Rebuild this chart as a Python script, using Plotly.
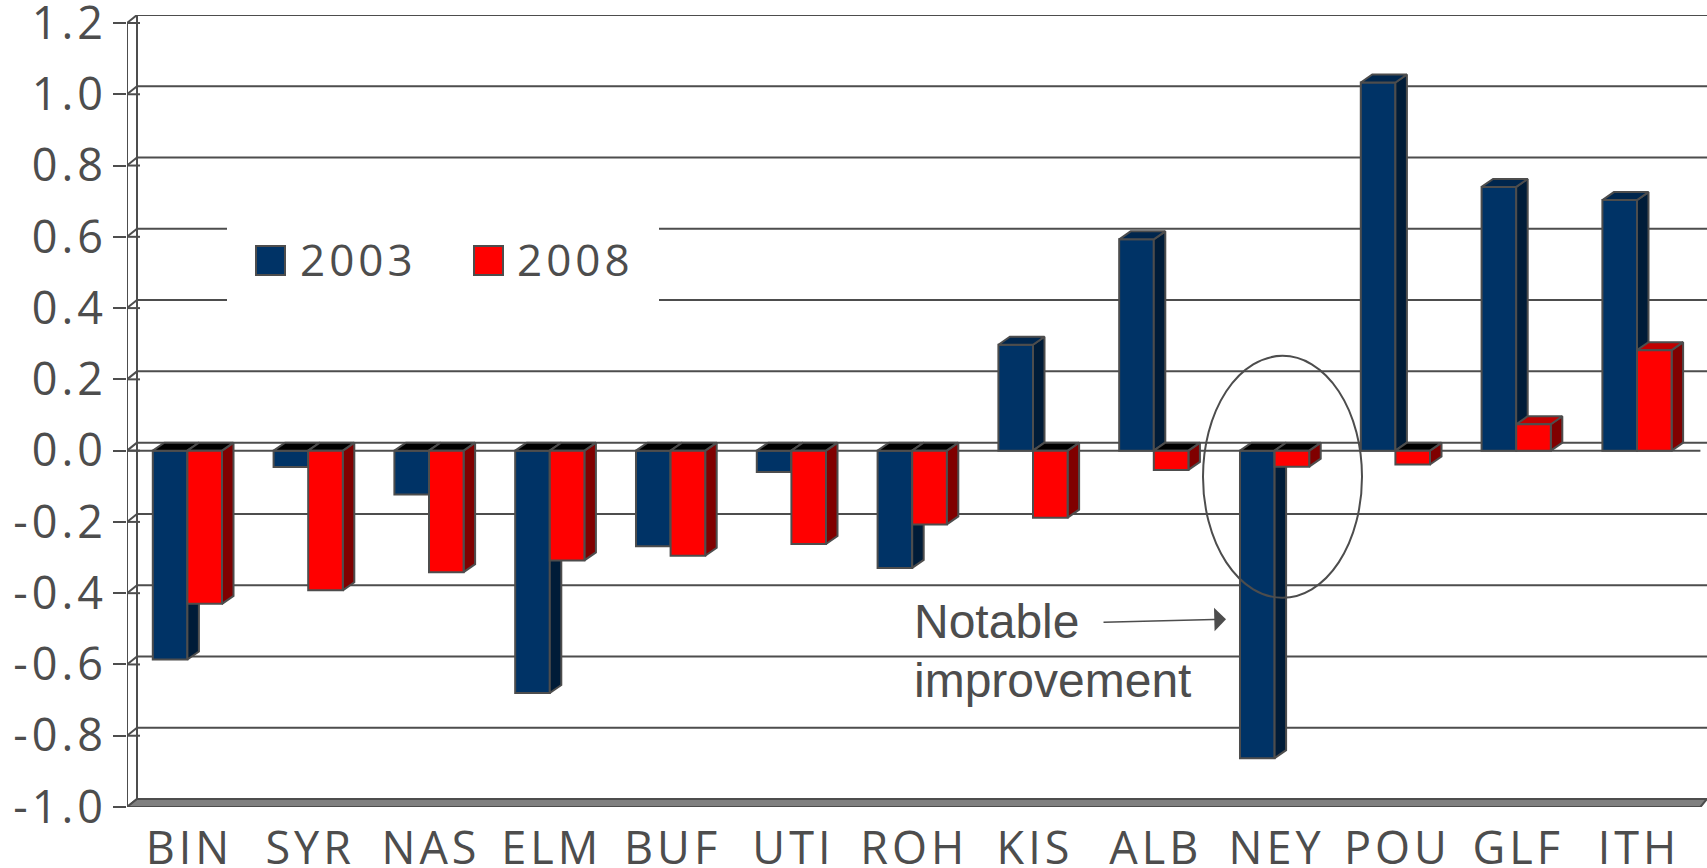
import plotly.graph_objects as go

CATEGORIES = ["BIN", "SYR", "NAS", "ELM", "BUF", "UTI", "ROH", "KIS", "ALB", "NEY", "POU", "GLF", "ITH"]
VALUES_2003 = [-0.586, -0.046, -0.123, -0.680, -0.268, -0.060, -0.329, 0.297, 0.593, -0.863, 1.033, 0.740, 0.703]
VALUES_2008 = [-0.430, -0.392, -0.341, -0.308, -0.295, -0.262, -0.207, -0.188, -0.054, -0.045, -0.039, 0.074, 0.282]
Y_TICKS = [1.2, 1.0, 0.8, 0.6, 0.4, 0.2, 0.0, -0.2, -0.4, -0.6, -0.8, -1.0]
Y_LABELS = ["1.2", "1.0", "0.8", "0.6", "0.4", "0.2", "0.0", "-0.2", "-0.4", "-0.6", "-0.8", "-1.0"]

W, H = 1707, 868
L, R, T, B = 127, 1707, 15, 807.3
PITCH = 120.8
UNIT = 356.5
XR = [-0.5, -0.5 + (R - L) / PITCH]
YR = [-1.0, -1.0 + (B - T) / UNIT]
BW = 0.2865
DX, DY = 11.5 / PITCH, 8 / UNIT
WX = 10 / PITCH
XF_END = 12.5 + 3 / PITCH

INK = "#4d4d4d"
BLUE, BLUE_SIDE, BLUE_TOP = "#003366", "#001c38", "#00264d"
RED, RED_SIDE, RED_TOP = "#ff0000", "#800000", "#c00000"
FONT = "Open Sans"
LW = 2


def px(x):
    return (x - L) / (R - L)


def py(y):
    return (B - y) / (B - T)


def dx(x):
    return XR[0] + (x - L) / PITCH


def dy(y):
    return YR[0] + (B - y) / UNIT


def faces(values, x0_off):
    side_x, side_y, neg_x, neg_y, pos_x, pos_y = [], [], [], [], [], []
    for i, v in enumerate(values):
        a, b = i + x0_off, i + x0_off + BW
        hi, lo = max(v, 0), min(v, 0)
        side_x += [b, b + DX, b + DX, b, b, None]
        side_y += [hi, hi + DY, lo + DY, lo, hi, None]
        tx = [a, a + DX, b + DX, b, a, None]
        ty = [hi, hi + DY, hi + DY, hi, hi, None]
        if v < 0:
            neg_x += tx
            neg_y += ty
        else:
            pos_x += tx
            pos_y += ty
    return side_x, side_y, neg_x, neg_y, pos_x, pos_y


def poly(x, y, color):
    return go.Scatter(x=x, y=y, mode="lines", fill="toself", fillcolor=color,
                      line=dict(color=INK, width=LW), hoverinfo="skip", showlegend=False,
                      xaxis="x", yaxis="y")


fig = go.Figure()
xs = list(range(len(CATEGORIES)))
fig.add_trace(go.Bar(x=xs, y=VALUES_2003, width=BW, offset=-BW, name="2003", marker=dict(color=BLUE, line=dict(color=INK, width=LW)), showlegend=False, xaxis="x", yaxis="y"))
for vals, off, s, tp in [(VALUES_2003, -BW, BLUE_SIDE, BLUE_TOP), (VALUES_2008, 0, RED_SIDE, RED_TOP)]:
    sx, sy, nx, ny, ox, oy = faces(vals, off)
    fig.add_trace(poly(sx, sy, s))
    fig.add_trace(poly(nx, ny, "#000000"))
    if ox:
        fig.add_trace(poly(ox, oy, tp))
fig.add_trace(go.Bar(x=xs, y=VALUES_2008, width=BW, offset=0, name="2008", marker=dict(color=RED, line=dict(color=INK, width=LW)), showlegend=False, xaxis="x2", yaxis="y2"))

line = dict(color=INK, width=LW)
shapes = []
for v in Y_TICKS:
    shapes.append(dict(type="line", layer="below", x0=-0.5 + WX, x1=XR[1], y0=v + DY, y1=v + DY, line=line))
    shapes.append(dict(type="line", layer="below", x0=-0.5, x1=-0.5 + WX, y0=v, y1=v + DY, line=line))
    shapes.append(dict(type="line", layer="below", x0=-0.5, x1=-0.5 + 13 / PITCH, y0=v, y1=v, line=line))
# gap in the gridlines behind the legend
shapes.append(dict(type="rect", layer="below", x0=dx(227), x1=dx(659), y0=dy(310), y1=dy(220), fillcolor="white", line=dict(width=0)))
shapes.append(dict(type="line", layer="below", x0=-0.5, x1=-0.5, y0=-1, y1=1.2, line=line))
shapes.append(dict(type="line", layer="below", x0=-0.5 + WX, x1=-0.5 + WX, y0=-1 + DY, y1=1.2 + DY, line=line))
shapes.append(dict(type="line", layer="below", x0=-0.5, x1=XF_END, y0=0, y1=0, line=line))
shapes.append(dict(type="path", layer="below",
                   path=f"M {XR[0]} -1 L {XR[0] + WX} {-1 + DY} L {XR[1]} {-1 + DY} L {XF_END} -1 Z",
                   fillcolor="#808080", line=line))
shapes.append(dict(type="rect", xref="paper", yref="paper", x0=px(256), x1=px(285), y0=py(275), y1=py(246), fillcolor=BLUE, line=line))
shapes.append(dict(type="rect", xref="paper", yref="paper", x0=px(474), x1=px(503), y0=py(275), y1=py(246), fillcolor=RED, line=line))
shapes.append(dict(type="circle", xref="paper", yref="paper", x0=px(1203), x1=px(1362), y0=py(598), y1=py(356), line=line))

LEG_FONT = dict(family=FONT, size=44, color=INK)
ann = [
    dict(xref="paper", yref="paper", x=px(306), y=py(259), text="2003", showarrow=False, xanchor="left", yanchor="middle", font=LEG_FONT),
    dict(xref="paper", yref="paper", x=px(523), y=py(259), text="2008", showarrow=False, xanchor="left", yanchor="middle", font=LEG_FONT),
    dict(xref="paper", yref="paper", x=px(912), y=py(622), text="Notable", showarrow=False, xanchor="left", yanchor="middle", font=dict(family="Liberation Sans", size=48, color=INK)),
    dict(xref="paper", yref="paper", x=px(912), y=py(681), text="improvement", showarrow=False, xanchor="left", yanchor="middle", font=dict(family="Liberation Sans", size=48, color=INK)),
    dict(xref="paper", yref="paper", x=px(1226), y=py(619.5), axref="pixel", ayref="pixel", ax=-124, ay=3, text="", showarrow=True, arrowhead=1, arrowsize=2.6, arrowwidth=1.5, arrowcolor=INK),
]

fig.update_layout(
    width=W, height=H, paper_bgcolor="white", plot_bgcolor="white",
    margin=dict(l=L, r=W - R, t=T, b=H - B, pad=0, autoexpand=False),
    showlegend=False, shapes=shapes, annotations=ann,
    xaxis=dict(range=XR, tickmode="array", tickvals=xs, ticktext=CATEGORIES, showgrid=False, zeroline=False,
               showline=False, ticks="", tickfont=dict(family=FONT, size=45, color=INK), tickangle=0,
               fixedrange=True, ticklabelstandoff=11, ticklabeloverflow="allow", ticklabelshift=2),
    yaxis=dict(range=YR, tickmode="array", tickvals=Y_TICKS, ticktext=Y_LABELS, showgrid=False, zeroline=False,
               showline=False, ticks="outside", ticklen=13, tickcolor=INK, tickwidth=LW,
               tickfont=dict(family=FONT, size=45, color=INK), fixedrange=True,
               ticklabeloverflow="allow", ticklabelstandoff=-3),
    xaxis2=dict(range=XR, overlaying="x", visible=False, fixedrange=True, anchor="y2"),
    yaxis2=dict(range=YR, overlaying="y", visible=False, fixedrange=True, anchor="x2"),
)

CSS = (".xtick text,.ytick text,.annotation[data-index='0'] text,.annotation[data-index='1'] text"
       "{letter-spacing:4px}")
POST = ("document.body.style.margin='0';"
        "var s=document.createElement('style');s.textContent=\"" + CSS + "\";document.head.appendChild(s);")
fig.write_html("out.html", post_script=POST, config={"displayModeBar": False})
